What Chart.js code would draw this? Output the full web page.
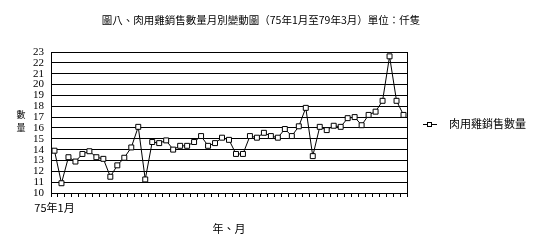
<!DOCTYPE html>
<html>
<head>
<meta charset="utf-8">
<script src="https://cdn.jsdelivr.net/npm/chart.js@4"></script>
<style>
  html, body { margin: 0; padding: 0; background: #fff; }
  canvas { display: block; }
</style>
</head>
<body>
<canvas id="salesChart" width="538" height="250"></canvas>
<script>
const chartTitle = '圖八、肉用雞銷售數量月別變動圖（75年1月至79年3月）單位：仟隻';
const seriesName = '肉用雞銷售數量';
const yTitle = ['數', '量'];
const xTitle = '年、月';

const months = [
    '75年1月', '75年2月', '75年3月', '75年4月', '75年5月', '75年6月',
    '75年7月', '75年8月', '75年9月', '75年10月', '75年11月', '75年12月',
    '76年1月', '76年2月', '76年3月', '76年4月', '76年5月', '76年6月',
    '76年7月', '76年8月', '76年9月', '76年10月', '76年11月', '76年12月',
    '77年1月', '77年2月', '77年3月', '77年4月', '77年5月', '77年6月',
    '77年7月', '77年8月', '77年9月', '77年10月', '77年11月', '77年12月',
    '78年1月', '78年2月', '78年3月', '78年4月', '78年5月', '78年6月',
    '78年7月', '78年8月', '78年9月', '78年10月', '78年11月', '78年12月',
    '79年1月', '79年2月', '79年3月'
];

const salesValues = [
    13.9, 10.9, 13.3, 12.9, 13.6, 13.85, 13.3, 13.15, 11.5, 12.55, 13.25, 14.2,
    16.1, 11.25, 14.7, 14.6, 14.85, 14.0, 14.35, 14.35, 14.7, 15.25, 14.35, 14.6,
    15.1, 14.9, 13.6, 13.6, 15.25, 15.1, 15.55, 15.25, 15.1, 15.9, 15.25, 16.15,
    17.85, 13.4, 16.1, 15.8, 16.2, 16.1, 16.9, 17.0, 16.25, 17.2, 17.5, 18.5,
    22.6, 18.5, 17.2
];

const yMin = 10;
const yMax = 23;
const shownLabels = ['75年1月'];

const cjkFont = '"Noto Sans CJK TC", "Noto Sans CJK SC", sans-serif';

// title, y title, legend and plot frame drawn by hand
const decorations = {
    id: 'decorations',
    afterDraw(chart) {
        const ctx = chart.ctx;
        const area = chart.chartArea;
        ctx.save();

        ctx.strokeStyle = '#000';
        ctx.lineWidth = 1;
        ctx.strokeRect(Math.round(area.left) + 0.5, Math.round(area.top) + 0.5,
            Math.round(area.right - area.left), Math.round(area.bottom - area.top));

        ctx.fillStyle = '#000';
        ctx.textBaseline = 'middle';
        ctx.textAlign = 'center';
        ctx.font = '10.5px ' + cjkFont;
        ctx.fillText(chartTitle, 261, 20);

        ctx.font = '9px ' + cjkFont;
        ctx.fillText(yTitle[0], 21, 115);
        ctx.fillText(yTitle[1], 21, 128);

        // legend
        const ly = 124.5;
        ctx.beginPath();
        ctx.moveTo(423, ly);
        ctx.lineTo(437, ly);
        ctx.stroke();
        ctx.fillStyle = '#fff';
        ctx.fillRect(427.5, ly - 2, 4, 4);
        ctx.strokeRect(427.5, ly - 2, 4, 4);
        ctx.fillStyle = '#000';
        ctx.textAlign = 'left';
        ctx.font = '11px ' + cjkFont;
        ctx.fillText(seriesName, 449, 124);

        ctx.restore();
    }
};

const ctx = document.getElementById('salesChart');
new Chart(ctx, {
    type: 'line',
    data: {
        labels: months,
        datasets: [{
            label: seriesName,
            data: salesValues,
            borderColor: '#000',
            borderWidth: 1,
            tension: 0,
            pointStyle: 'rect',
            pointRadius: 3.5,
            pointBorderWidth: 1,
            pointBorderColor: '#000',
            pointBackgroundColor: '#fff'
        }]
    },
    options: {
        responsive: false,
        animation: false,
        devicePixelRatio: 1,
        layout: {
            padding: { top: 52, right: 131, left: 0, bottom: 0 }
        },
        scales: {
            x: {
                offset: true,
                afterFit: scale => { scale.height = 57; },
                grid: {
                    offset: true,
                    drawOnChartArea: false,
                    drawTicks: true,
                    tickLength: 4,
                    color: '#000'
                },
                border: { display: true, color: '#000' },
                ticks: {
                    autoSkip: false,
                    maxRotation: 0,
                    padding: 4,
                    color: '#000',
                    font: { family: cjkFont, size: 11 },
                    callback: function(value) {
                        const label = this.getLabelForValue(value);
                        return shownLabels.includes(label) ? label : '';
                    }
                },
                title: {
                    display: true,
                    text: xTitle,
                    color: '#000',
                    font: { family: cjkFont, size: 11 },
                    padding: { top: 0, bottom: 15 }
                }
            },
            y: {
                min: yMin,
                max: yMax,
                afterFit: scale => { scale.width = 51; },
                grid: {
                    color: '#000',
                    drawTicks: false
                },
                border: { display: true, color: '#000' },
                ticks: {
                    stepSize: 1,
                    autoSkip: false,
                    padding: 7,
                    color: '#000',
                    font: { family: '"Liberation Serif", serif', size: 11 }
                }
            }
        },
        plugins: {
            legend: { display: false },
            title: { display: false },
            tooltip: { enabled: false }
        }
    },
    plugins: [decorations]
});
</script>
</body>
</html>
